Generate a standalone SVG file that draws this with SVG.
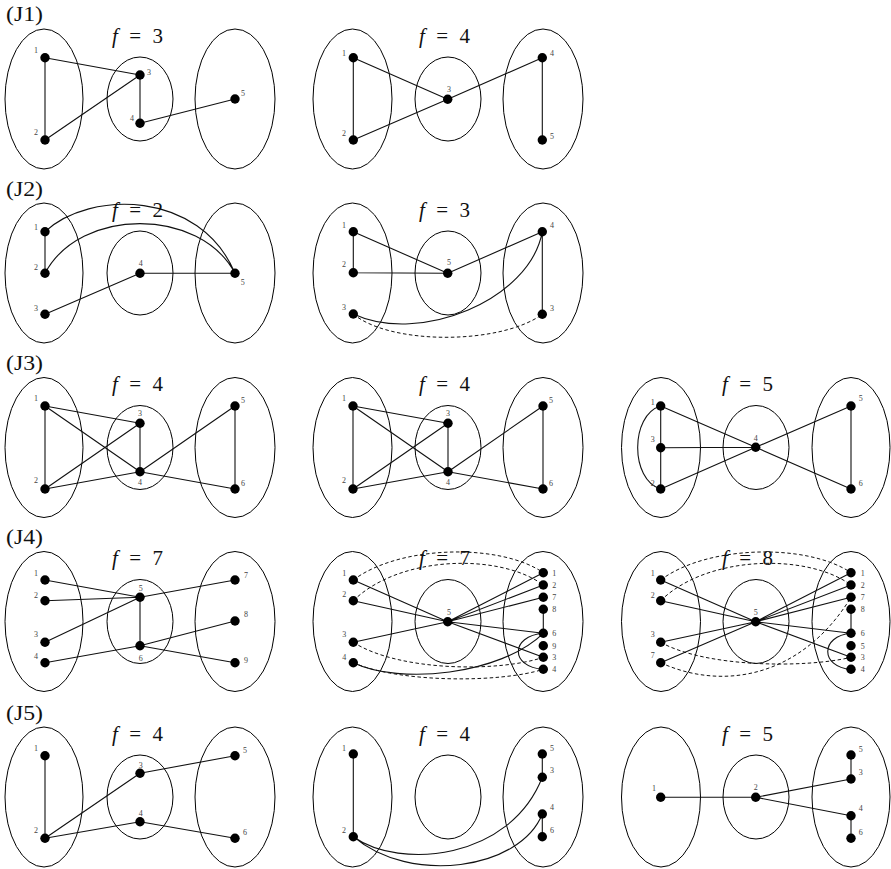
<svg xmlns="http://www.w3.org/2000/svg" width="891" height="869" viewBox="0 0 891 869">
<style>
.bg{fill:#fff}
.el{fill:none;stroke:#000;stroke-width:1}
.e{fill:none;stroke:#111;stroke-width:1.1}
.d{fill:none;stroke:#111;stroke-width:1;stroke-dasharray:3.5 2.5}
.n circle{fill:#000}
.n text{font-family:"Liberation Serif","Times New Roman",serif;font-size:8px;fill:#444;text-anchor:middle}
.rl{font-family:"Liberation Serif","Times New Roman",serif;font-size:20px;fill:#111}
.f{font-family:"Liberation Serif","Times New Roman",serif;font-size:21px;fill:#111;text-anchor:middle}
.f tspan.i{font-style:italic}
</style>
<rect class="bg" x="0" y="0" width="891" height="869"/>

<!-- Row labels -->
<g id="row-labels">
<text class="rl" x="6" y="21" textLength="37" lengthAdjust="spacingAndGlyphs">(J1)</text>
<text class="rl" x="6" y="195.5" textLength="37" lengthAdjust="spacingAndGlyphs">(J2)</text>
<text class="rl" x="6" y="370" textLength="37" lengthAdjust="spacingAndGlyphs">(J3)</text>
<text class="rl" x="6" y="544" textLength="37" lengthAdjust="spacingAndGlyphs">(J4)</text>
<text class="rl" x="6" y="719.5" textLength="37" lengthAdjust="spacingAndGlyphs">(J5)</text>
</g>

<!-- f labels -->
<g id="f-labels">
<text class="f" x="137.5" y="42.5" textLength="51"><tspan class="i">f</tspan> = 3</text>
<text class="f" x="444.5" y="42.5" textLength="51"><tspan class="i">f</tspan> = 4</text>
<text class="f" x="137.5" y="216.5" textLength="51"><tspan class="i">f</tspan> = 2</text>
<text class="f" x="444.5" y="216.5" textLength="51"><tspan class="i">f</tspan> = 3</text>
<text class="f" x="137.5" y="391" textLength="51"><tspan class="i">f</tspan> = 4</text>
<text class="f" x="444.5" y="391" textLength="51"><tspan class="i">f</tspan> = 4</text>
<text class="f" x="747.5" y="391" textLength="51"><tspan class="i">f</tspan> = 5</text>
<text class="f" x="137.5" y="565" textLength="51"><tspan class="i">f</tspan> = 7</text>
<text class="f" x="444.5" y="565" textLength="51"><tspan class="i">f</tspan> = 7</text>
<text class="f" x="747.5" y="565" textLength="51"><tspan class="i">f</tspan> = 8</text>
<text class="f" x="137.5" y="740.5" textLength="51"><tspan class="i">f</tspan> = 4</text>
<text class="f" x="444.5" y="740.5" textLength="51"><tspan class="i">f</tspan> = 4</text>
<text class="f" x="747.5" y="740.5" textLength="51"><tspan class="i">f</tspan> = 5</text>
</g>

<!-- Ellipses -->
<g id="ellipses">
<ellipse class="el" cx="44" cy="99" rx="39" ry="70"/><ellipse class="el" cx="140" cy="99" rx="33" ry="42"/><ellipse class="el" cx="235" cy="99" rx="40" ry="70"/>
<ellipse class="el" cx="352.5" cy="99" rx="39.5" ry="70"/><ellipse class="el" cx="448" cy="99" rx="33" ry="42"/><ellipse class="el" cx="543" cy="99" rx="40" ry="70"/>

<ellipse class="el" cx="44" cy="273" rx="39" ry="70"/><ellipse class="el" cx="140" cy="273" rx="33" ry="42"/><ellipse class="el" cx="235" cy="273" rx="40" ry="70"/>
<ellipse class="el" cx="352.5" cy="273" rx="39.5" ry="70"/><ellipse class="el" cx="448" cy="273" rx="33" ry="42"/><ellipse class="el" cx="543" cy="273" rx="40" ry="70"/>

<ellipse class="el" cx="44" cy="447.5" rx="39" ry="70"/><ellipse class="el" cx="140" cy="447.5" rx="33" ry="42"/><ellipse class="el" cx="235" cy="447.5" rx="40" ry="70"/>
<ellipse class="el" cx="352.5" cy="447.5" rx="39.5" ry="70"/><ellipse class="el" cx="448" cy="447.5" rx="33" ry="42"/><ellipse class="el" cx="543" cy="447.5" rx="40" ry="70"/>
<ellipse class="el" cx="661" cy="447.5" rx="39.5" ry="70"/><ellipse class="el" cx="756" cy="447.5" rx="33" ry="42"/><ellipse class="el" cx="851" cy="447.5" rx="39" ry="70"/>

<ellipse class="el" cx="44" cy="621.5" rx="39" ry="70"/><ellipse class="el" cx="140" cy="621.5" rx="33" ry="42"/><ellipse class="el" cx="235" cy="621.5" rx="40" ry="70"/>
<ellipse class="el" cx="352.5" cy="621.5" rx="39.5" ry="70"/><ellipse class="el" cx="448" cy="621.5" rx="33" ry="42"/><ellipse class="el" cx="543" cy="621.5" rx="40" ry="70"/>
<ellipse class="el" cx="661" cy="621.5" rx="39.5" ry="70"/><ellipse class="el" cx="756" cy="621.5" rx="33" ry="42"/><ellipse class="el" cx="851" cy="621.5" rx="39" ry="70"/>

<ellipse class="el" cx="44" cy="797" rx="39" ry="70"/><ellipse class="el" cx="140" cy="797" rx="33" ry="42"/><ellipse class="el" cx="235" cy="797" rx="40" ry="70"/>
<ellipse class="el" cx="352.5" cy="797" rx="39.5" ry="70"/><ellipse class="el" cx="448" cy="797" rx="33" ry="42"/><ellipse class="el" cx="543" cy="797" rx="40" ry="70"/>
<ellipse class="el" cx="661" cy="797" rx="39.5" ry="70"/><ellipse class="el" cx="756" cy="797" rx="33" ry="42"/><ellipse class="el" cx="851" cy="797" rx="39" ry="70"/>
</g>

<!-- Connectors -->
<g id="connectors">
<!-- J1a -->
<path class="e" d="M45,57.7V140M45,57.7L140,75M45,140L140,75M140,75V123.3M140,123.3L235,99"/>
<!-- J1b -->
<path class="e" d="M353.3,57.7V140M353.3,57.7L447.7,99.3M353.3,140L447.7,99.3M447.7,99.3L542.3,57.7M542.3,57.7V140"/>
<!-- J2a -->
<path class="e" d="M45,231.7V273.3M45,314.3L140,273.3M140,273.3H235M45,231.7C90,190 200,190 235,273.3M45,273.3C80,207 200,207 235,273.3"/>
<!-- J2b -->
<path class="e" d="M353.3,231.7V272.7M353.3,231.7L447.7,273.3M353.3,272.7L447.7,273.3M447.7,273.3L542.3,231.7M542.3,231.7V314.3M542.3,231.7C530,300 420,345 353.3,314"/>
<path class="d" d="M353.3,314C390,345 500,345 542.3,314.3"/>
<!-- J3a -->
<path class="e" d="M45,406V489M45,406L140,423.3M45,406L140,471.7M45,489L140,423.3M45,489L140,471.7M140,423.3V471.7M140,471.7L235,406M140,471.7L235,489M235,406V489"/>
<!-- J3b -->
<path class="e" d="M353,406V489M353,406L448,423.3M353,406L448,471.7M353,489L448,423.3M353,489L448,471.7M448,423.3V471.7M448,471.7L543,406M448,471.7L543,489M543,406V489"/>
<!-- J3c -->
<path class="e" d="M660.7,406V489M660.7,406C630,415 630,480 660.7,489M660.7,406L755.7,447.3M660.7,447.7L755.7,447.3M660.7,489L755.7,447.3M755.7,447.3L851,406M755.7,447.3L851,489M851,406V489"/>
<!-- J4a -->
<path class="e" d="M45,580L140,597.3M45,600.7L140,597.3M45,642.3L140,597.3M140,597.3L235,580M140,597.3V645.7M45,662.7L140,645.7M140,645.7L235,621M140,645.7L235,662.7"/>
<!-- J4b -->
<path class="e" d="M353.3,580L447.7,621.7M353.3,600.7L447.7,621.7M353.3,642.3L447.7,621.7M447.7,621.7L543.3,572.7M447.7,621.7L543.3,585M447.7,621.7L543.3,597.3M447.7,621.7L543.3,633.3M447.7,621.7L543.3,657.3M543.3,609.3V633.3M543.3,633.3C510,636 510,667 543.3,669.3M353.3,662.7C400,685 500,675 543.3,633.3"/>
<path class="d" d="M353.3,580C400,545 500,543 543.3,572.7M353.3,600.7C400,555 500,553 543.3,585M353.3,642.3C400,672 500,672 543.3,657.3M353.3,662.7C400,683 500,683 543.3,669.3"/>
<!-- J4c -->
<path class="e" d="M660.7,580L755.7,621.7M660.7,600.7L755.7,621.7M660.7,642.3L755.7,621.7M660.7,662.7L755.7,621.7M755.7,621.7L851,572.7M755.7,621.7L851,585M755.7,621.7L851,597.3M755.7,621.7L851,633.3M755.7,621.7L851,657.3M851,609.3V633.3M851,633.3C820,636 820,667 851,669.3"/>
<path class="d" d="M660.7,580C707,545 807,543 851,572.7M660.7,600.7C707,555 807,553 851,585M660.7,642.3C707,668 807,668 851,657.3M660.7,662.7C720,690 800,680 851,597.3"/>
<!-- J5a -->
<path class="e" d="M45,755.7V838.3M45,838.3L140,773.3M140,773.3L235,755.7M45,838.3L140,821.7M140,821.7L235,838.3"/>
<!-- J5b -->
<path class="e" d="M353.3,754V836.7M542.3,754V777.3M542.3,814V836.7M353.3,836.7C400,870 510,860 542.3,777.3M353.3,836.7C410,885 520,870 542.3,814"/>
<!-- J5c -->
<path class="e" d="M660.7,797.3H755.7M755.7,797.3L851,779M755.7,797.3L851,815.7M851,755V779M851,815.7V838.3"/>
</g>

<!-- Nodes -->
<g id="J1a">
<g id="J1a-1" class="n"><circle cx="45" cy="57.7" r="4.7"/><text x="36" y="53">1</text></g>
<g id="J1a-2" class="n"><circle cx="45" cy="140" r="4.7"/><text x="36" y="134.7">2</text></g>
<g id="J1a-3" class="n"><circle cx="140" cy="75" r="4.7"/><text x="149" y="75">3</text></g>
<g id="J1a-4" class="n"><circle cx="140" cy="123.3" r="4.7"/><text x="132" y="121">4</text></g>
<g id="J1a-5" class="n"><circle cx="235" cy="99" r="4.7"/><text x="243" y="96">5</text></g>
</g>
<g id="J1b">
<g id="J1b-1" class="n"><circle cx="353.3" cy="57.7" r="4.7"/><text x="344" y="56">1</text></g>
<g id="J1b-2" class="n"><circle cx="353.3" cy="140" r="4.7"/><text x="344" y="136">2</text></g>
<g id="J1b-3" class="n"><circle cx="447.7" cy="99.3" r="4.7"/><text x="449" y="92">3</text></g>
<g id="J1b-4" class="n"><circle cx="542.3" cy="57.7" r="4.7"/><text x="552" y="56">4</text></g>
<g id="J1b-5" class="n"><circle cx="542.3" cy="140" r="4.7"/><text x="552" y="139">5</text></g>
</g>
<g id="J2a">
<g id="J2a-1" class="n"><circle cx="45" cy="231.7" r="4.7"/><text x="36" y="229.7">1</text></g>
<g id="J2a-2" class="n"><circle cx="45" cy="273.3" r="4.7"/><text x="36" y="269.7">2</text></g>
<g id="J2a-3" class="n"><circle cx="45" cy="314.3" r="4.7"/><text x="36" y="311.3">3</text></g>
<g id="J2a-4" class="n"><circle cx="140" cy="273.3" r="4.7"/><text x="140.7" y="266.3">4</text></g>
<g id="J2a-5" class="n"><circle cx="235" cy="273.3" r="4.7"/><text x="242.7" y="285.3">5</text></g>
</g>
<g id="J2b">
<g id="J2b-1" class="n"><circle cx="353.3" cy="231.7" r="4.7"/><text x="344" y="228">1</text></g>
<g id="J2b-2" class="n"><circle cx="353.3" cy="272.7" r="4.7"/><text x="344" y="267">2</text></g>
<g id="J2b-3" class="n"><circle cx="353.3" cy="314" r="4.7"/><text x="344" y="309.7">3</text></g>
<g id="J2b-5" class="n"><circle cx="447.7" cy="273.3" r="4.7"/><text x="449" y="264.7">5</text></g>
<g id="J2b-4" class="n"><circle cx="542.3" cy="231.7" r="4.7"/><text x="552" y="228">4</text></g>
<g id="J2b-3r" class="n"><circle cx="542.3" cy="314.3" r="4.7"/><text x="552" y="311.3">3</text></g>
</g>
<g id="J3a">
<g id="J3a-1" class="n"><circle cx="45" cy="406" r="4.7"/><text x="36" y="401.3">1</text></g>
<g id="J3a-2" class="n"><circle cx="45" cy="489" r="4.7"/><text x="36" y="483">2</text></g>
<g id="J3a-3" class="n"><circle cx="140" cy="423.3" r="4.7"/><text x="140" y="416.3">3</text></g>
<g id="J3a-4" class="n"><circle cx="140" cy="471.7" r="4.7"/><text x="140" y="485.3">4</text></g>
<g id="J3a-5" class="n"><circle cx="235" cy="406" r="4.7"/><text x="243" y="403">5</text></g>
<g id="J3a-6" class="n"><circle cx="235" cy="489" r="4.7"/><text x="243" y="486">6</text></g>
</g>
<g id="J3b">
<g id="J3b-1" class="n"><circle cx="353" cy="406" r="4.7"/><text x="344" y="401.3">1</text></g>
<g id="J3b-2" class="n"><circle cx="353" cy="489" r="4.7"/><text x="344" y="483">2</text></g>
<g id="J3b-3" class="n"><circle cx="448" cy="423.3" r="4.7"/><text x="448" y="416.3">3</text></g>
<g id="J3b-4" class="n"><circle cx="448" cy="471.7" r="4.7"/><text x="448" y="485.3">4</text></g>
<g id="J3b-5" class="n"><circle cx="543" cy="406" r="4.7"/><text x="551" y="403">5</text></g>
<g id="J3b-6" class="n"><circle cx="543" cy="489" r="4.7"/><text x="551" y="486">6</text></g>
</g>
<g id="J3c">
<g id="J3c-1" class="n"><circle cx="660.7" cy="406" r="4.7"/><text x="652.7" y="404.7">1</text></g>
<g id="J3c-3" class="n"><circle cx="660.7" cy="447.7" r="4.7"/><text x="652.7" y="442.3">3</text></g>
<g id="J3c-2" class="n"><circle cx="660.7" cy="489" r="4.7"/><text x="652.7" y="486.3">2</text></g>
<g id="J3c-4" class="n"><circle cx="755.7" cy="447.3" r="4.7"/><text x="755.7" y="441.3">4</text></g>
<g id="J3c-5" class="n"><circle cx="851" cy="406" r="4.7"/><text x="860.7" y="401.3">5</text></g>
<g id="J3c-6" class="n"><circle cx="851" cy="489" r="4.7"/><text x="860.7" y="486.3">6</text></g>
</g>
<g id="J4a">
<g id="J4a-1" class="n"><circle cx="45" cy="580" r="4.7"/><text x="36" y="576.3">1</text></g>
<g id="J4a-2" class="n"><circle cx="45" cy="600.7" r="4.7"/><text x="36" y="598">2</text></g>
<g id="J4a-3" class="n"><circle cx="45" cy="642.3" r="4.7"/><text x="36" y="637">3</text></g>
<g id="J4a-4" class="n"><circle cx="45" cy="662.7" r="4.7"/><text x="36" y="659">4</text></g>
<g id="J4a-5" class="n"><circle cx="140" cy="597.3" r="4.7"/><text x="140.7" y="591.3">5</text></g>
<g id="J4a-6" class="n"><circle cx="140" cy="645.7" r="4.7"/><text x="140.7" y="661.3">6</text></g>
<g id="J4a-7" class="n"><circle cx="235" cy="580" r="4.7"/><text x="246" y="578">7</text></g>
<g id="J4a-8" class="n"><circle cx="235" cy="621" r="4.7"/><text x="246" y="617.3">8</text></g>
<g id="J4a-9" class="n"><circle cx="235" cy="662.7" r="4.7"/><text x="246" y="663">9</text></g>
</g>
<g id="J4b">
<g id="J4b-l1" class="n"><circle cx="353.3" cy="580" r="4.7"/><text x="344.3" y="575.7">1</text></g>
<g id="J4b-l2" class="n"><circle cx="353.3" cy="600.7" r="4.7"/><text x="344.3" y="597">2</text></g>
<g id="J4b-l3" class="n"><circle cx="353.3" cy="642.3" r="4.7"/><text x="344.3" y="637">3</text></g>
<g id="J4b-l4" class="n"><circle cx="353.3" cy="662.7" r="4.7"/><text x="344.3" y="659.7">4</text></g>
<g id="J4b-5" class="n"><circle cx="447.7" cy="621.7" r="4.7"/><text x="449" y="614.7">5</text></g>
<g id="J4b-r1" class="n"><circle cx="543.3" cy="572.7" r="4.7"/><text x="554.3" y="575.7">1</text></g>
<g id="J4b-r2" class="n"><circle cx="543.3" cy="585" r="4.7"/><text x="554.3" y="588">2</text></g>
<g id="J4b-r7" class="n"><circle cx="543.3" cy="597.3" r="4.7"/><text x="554.3" y="600.3">7</text></g>
<g id="J4b-r8" class="n"><circle cx="543.3" cy="609.3" r="4.7"/><text x="554.3" y="612.3">8</text></g>
<g id="J4b-r6" class="n"><circle cx="543.3" cy="633.3" r="4.7"/><text x="554.3" y="636.3">6</text></g>
<g id="J4b-r9" class="n"><circle cx="543.3" cy="645.7" r="4.7"/><text x="554.3" y="648.7">9</text></g>
<g id="J4b-r3" class="n"><circle cx="543.3" cy="657.3" r="4.7"/><text x="554.3" y="660.3">3</text></g>
<g id="J4b-r4" class="n"><circle cx="543.3" cy="669.3" r="4.7"/><text x="554.3" y="672.3">4</text></g>
</g>
<g id="J4c">
<g id="J4c-l1" class="n"><circle cx="660.7" cy="580" r="4.7"/><text x="652.7" y="575.7">1</text></g>
<g id="J4c-l2" class="n"><circle cx="660.7" cy="600.7" r="4.7"/><text x="652.7" y="598">2</text></g>
<g id="J4c-l3" class="n"><circle cx="660.7" cy="642.3" r="4.7"/><text x="652.7" y="637">3</text></g>
<g id="J4c-l7" class="n"><circle cx="660.7" cy="662.7" r="4.7"/><text x="652.7" y="658">7</text></g>
<g id="J4c-5" class="n"><circle cx="755.7" cy="621.7" r="4.7"/><text x="755.7" y="614.7">5</text></g>
<g id="J4c-r1" class="n"><circle cx="851" cy="572.7" r="4.7"/><text x="862.7" y="575.7">1</text></g>
<g id="J4c-r2" class="n"><circle cx="851" cy="585" r="4.7"/><text x="862.7" y="588">2</text></g>
<g id="J4c-r7" class="n"><circle cx="851" cy="597.3" r="4.7"/><text x="862.7" y="600.3">7</text></g>
<g id="J4c-r8" class="n"><circle cx="851" cy="609.3" r="4.7"/><text x="862.7" y="612.3">8</text></g>
<g id="J4c-r6" class="n"><circle cx="851" cy="633.3" r="4.7"/><text x="862.7" y="636.3">6</text></g>
<g id="J4c-r5" class="n"><circle cx="851" cy="645.7" r="4.7"/><text x="862.7" y="648.7">5</text></g>
<g id="J4c-r3" class="n"><circle cx="851" cy="657.3" r="4.7"/><text x="862.7" y="660.3">3</text></g>
<g id="J4c-r4" class="n"><circle cx="851" cy="669.3" r="4.7"/><text x="862.7" y="672.3">4</text></g>
</g>
<g id="J5a">
<g id="J5a-1" class="n"><circle cx="45" cy="755.7" r="4.7"/><text x="36" y="751">1</text></g>
<g id="J5a-2" class="n"><circle cx="45" cy="838.3" r="4.7"/><text x="36" y="833">2</text></g>
<g id="J5a-3" class="n"><circle cx="140" cy="773.3" r="4.7"/><text x="140.7" y="768">3</text></g>
<g id="J5a-4" class="n"><circle cx="140" cy="821.7" r="4.7"/><text x="140.7" y="816">4</text></g>
<g id="J5a-5" class="n"><circle cx="235" cy="755.7" r="4.7"/><text x="245" y="753">5</text></g>
<g id="J5a-6" class="n"><circle cx="235" cy="838.3" r="4.7"/><text x="245" y="835">6</text></g>
</g>
<g id="J5b">
<g id="J5b-1" class="n"><circle cx="353.3" cy="754" r="4.7"/><text x="344" y="751">1</text></g>
<g id="J5b-2" class="n"><circle cx="353.3" cy="836.7" r="4.7"/><text x="344" y="833">2</text></g>
<g id="J5b-5" class="n"><circle cx="542.3" cy="754" r="4.7"/><text x="552" y="751">5</text></g>
<g id="J5b-3" class="n"><circle cx="542.3" cy="777.3" r="4.7"/><text x="552" y="773">3</text></g>
<g id="J5b-4" class="n"><circle cx="542.3" cy="814" r="4.7"/><text x="552" y="810">4</text></g>
<g id="J5b-6" class="n"><circle cx="542.3" cy="836.7" r="4.7"/><text x="552" y="833">6</text></g>
</g>
<g id="J5c">
<g id="J5c-1" class="n"><circle cx="660.7" cy="797.3" r="4.7"/><text x="654" y="791.3">1</text></g>
<g id="J5c-2" class="n"><circle cx="755.7" cy="797.3" r="4.7"/><text x="755.7" y="790.3">2</text></g>
<g id="J5c-5" class="n"><circle cx="851" cy="755" r="4.7"/><text x="860.7" y="752">5</text></g>
<g id="J5c-3" class="n"><circle cx="851" cy="779" r="4.7"/><text x="860.7" y="775">3</text></g>
<g id="J5c-4" class="n"><circle cx="851" cy="815.7" r="4.7"/><text x="860.7" y="811">4</text></g>
<g id="J5c-6" class="n"><circle cx="851" cy="838.3" r="4.7"/><text x="860.7" y="835">6</text></g>
</g>
</svg>
